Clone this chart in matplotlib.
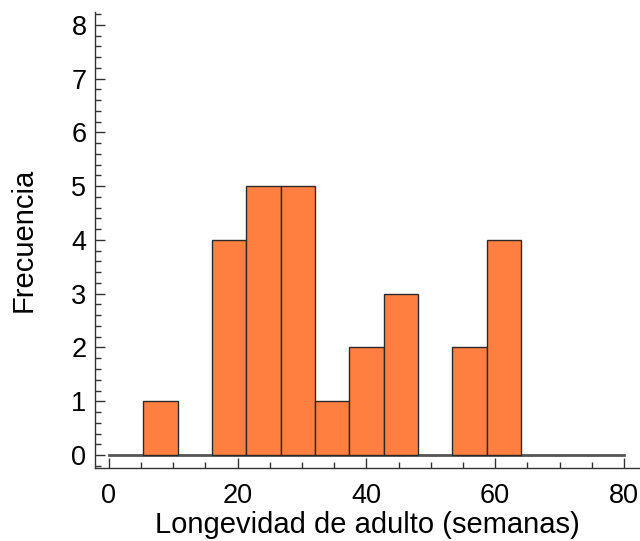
import numpy as np
import matplotlib.pyplot as plt
from matplotlib.ticker import MultipleLocator

plt.rcParams['font.family'] = ['Liberation Sans', 'DejaVu Sans']

# histogram of adult longevity (weeks), 15 bins from 0 to 80
bin_edges = np.linspace(0, 80, 16)
counts = [0, 1, 0, 4, 5, 5, 1, 2, 3, 0, 2, 4, 0, 0, 0]

fig = plt.figure(figsize=(6.4, 5.41), dpi=100)
ax = fig.add_axes([0.148, 0.135, 0.852, 0.843])

widths = np.diff(bin_edges)
for left, w, c in zip(bin_edges[:-1], widths, counts):
    if c > 0:
        ax.bar(left, c, width=w, align='edge', color='#ff7f41',
               edgecolor='#2a2a2a', linewidth=1.0, zorder=3)
ax.plot([bin_edges[0], bin_edges[-1]], [0, 0], color='#555555', lw=2, zorder=2)

ax.set_xlim(-2.2, 82.5)
ax.set_ylim(-0.24, 8.24)
for s in ['top', 'right']:
    ax.spines[s].set_visible(False)
for s in ['left', 'bottom']:
    ax.spines[s].set_linewidth(1.0)
    ax.spines[s].set_color('#333333')

ax.xaxis.set_major_locator(MultipleLocator(20))
ax.xaxis.set_minor_locator(MultipleLocator(5))
ax.yaxis.set_major_locator(MultipleLocator(1))
ax.yaxis.set_minor_locator(MultipleLocator(0.2))
ax.tick_params(which='both', direction='in', labelsize=19.5, color='#333333', width=1)
ax.tick_params(which='major', length=7)
ax.tick_params(which='minor', length=4)
ax.tick_params(axis='x', which='major', pad=11)
ax.tick_params(axis='y', which='major', pad=6)

ax.set_xlabel('Longevidad de adulto (semanas)', fontsize=21, labelpad=1)
ax.set_ylabel('Frecuencia', fontsize=21, labelpad=24)

fig.savefig('out.png', dpi=100)
